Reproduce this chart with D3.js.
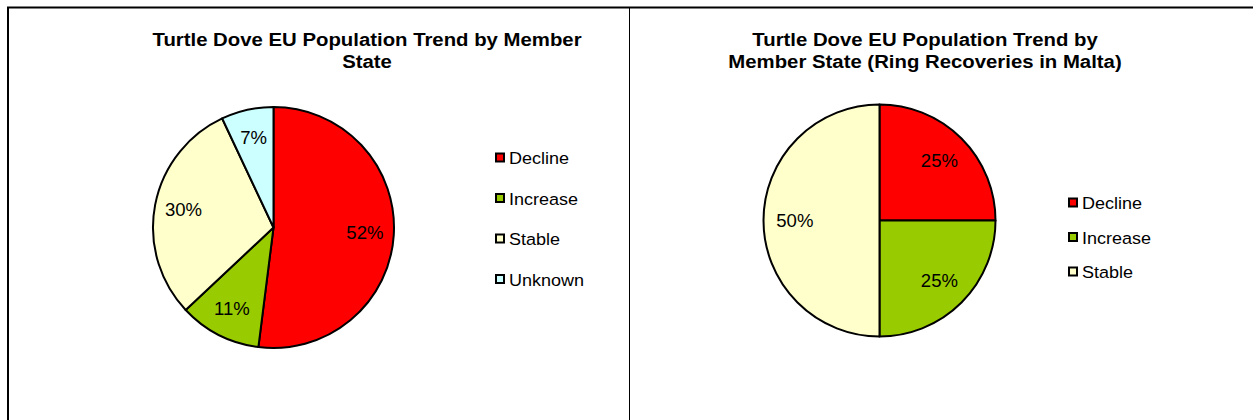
<!DOCTYPE html>
<html>
<head>
<meta charset="utf-8">
<script src="https://cdn.jsdelivr.net/npm/d3@7"></script>
<style>
  body { margin: 0; background: #fff; }
  svg { display: block; font-family: "Liberation Sans", Arial, sans-serif; }
</style>
</head>
<body>
<div id="chart"></div>
<script>
// datos
const leftCategories = ["Decline", "Increase", "Stable", "Unknown"];
const leftValues = [52, 11, 30, 7];
const rightCategories = ["Decline", "Increase", "Stable"];
const rightValues = [25, 25, 50];
const colors = {
    Decline: "#ff0000",
    Increase: "#99cc00",
    Stable: "#ffffcc",
    Unknown: "#ccffff"
};
const leftTitle = ["Turtle Dove EU Population Trend by Member", "State"];
const rightTitle = ["Turtle Dove EU Population Trend by", "Member State (Ring Recoveries in Malta)"];

const width = 1253, height = 420;
const svg = d3.select("#chart")
    .append("svg")
    .attr("width", width)
    .attr("height", height);

// marco
svg.append("line").attr("x1", 7).attr("x2", width).attr("y1", 7.5).attr("y2", 7.5)
    .attr("stroke", "#000").attr("stroke-width", 2);
svg.append("line").attr("x1", 8).attr("x2", 8).attr("y1", 7).attr("y2", height)
    .attr("stroke", "#000").attr("stroke-width", 2);
svg.append("line").attr("x1", 629.5).attr("x2", 629.5).attr("y1", 8).attr("y2", height)
    .attr("stroke", "#000").attr("stroke-width", 1);

function dibujarPie(cfg) {
    const data = cfg.categories.map((c, i) => ({ cat: c, value: cfg.values[i] }));
    const total = d3.sum(data, d => d.value);

    const pie = d3.pie().sort(null).value(d => d.value);
    const arc = d3.arc().innerRadius(0).outerRadius(cfg.r);
    const labelArc = d3.arc().innerRadius(cfg.r * cfg.lr).outerRadius(cfg.r * cfg.lr);

    const g = svg.append("g").attr("transform", `translate(${cfg.cx},${cfg.cy})`);
    const arcs = pie(data);

    g.selectAll("path")
        .data(arcs)
        .enter()
        .append("path")
        .attr("d", arc)
        .attr("fill", d => colors[d.data.cat])
        .attr("stroke", "#000")
        .attr("stroke-width", 2)
        .attr("stroke-linejoin", "round");

    g.selectAll("text.lbl")
        .data(arcs)
        .enter()
        .append("text")
        .attr("class", "lbl")
        .attr("transform", d => {
            const [x, y] = labelArc.centroid(d);
            return `translate(${x},${y}) scale(1.06,1)`;
        })
        .attr("text-anchor", "middle")
        .attr("dy", "0.35em")
        .style("font-size", "17.5px")
        .attr("fill", "#000")
        .text(d => Math.round(d.data.value / total * 100) + "%");

    // titulo
    cfg.title.forEach((t, i) => {
        svg.append("text")
            .attr("transform", `translate(${cfg.tx},${cfg.ty + i * 22.5}) scale(1.1,1)`)
            .attr("text-anchor", "middle")
            .style("font-size", "18.5px")
            .style("font-weight", "bold")
            .text(t);
    });

    // leyenda
    const leg = svg.append("g");
    const items = leg.selectAll("g")
        .data(cfg.categories)
        .enter()
        .append("g")
        .attr("transform", (d, i) => `translate(${cfg.lx},${cfg.ly + i * cfg.lstep})`);
    items.append("rect")
        .attr("x", 1).attr("y", -4.5)
        .attr("width", 8).attr("height", 8)
        .attr("fill", d => colors[d])
        .attr("stroke", "#000")
        .attr("stroke-width", 2);
    items.append("text")
        .attr("transform", "translate(14,0) scale(1.06,1)")
        .attr("dy", "0.36em")
        .style("font-size", "17px")
        .text(d => d);
}

dibujarPie({
    categories: leftCategories, values: leftValues,
    cx: 273.5, cy: 227.5, r: 120.5, lr: 0.76,
    title: leftTitle, tx: 367, ty: 45.5,
    lx: 495, ly: 158, lstep: 40.5
});

dibujarPie({
    categories: rightCategories, values: rightValues,
    cx: 879.5, cy: 220.5, r: 116, lr: 0.73,
    title: rightTitle, tx: 925, ty: 45.5,
    lx: 1068, ly: 203, lstep: 34.5
});
</script>
</body>
</html>
